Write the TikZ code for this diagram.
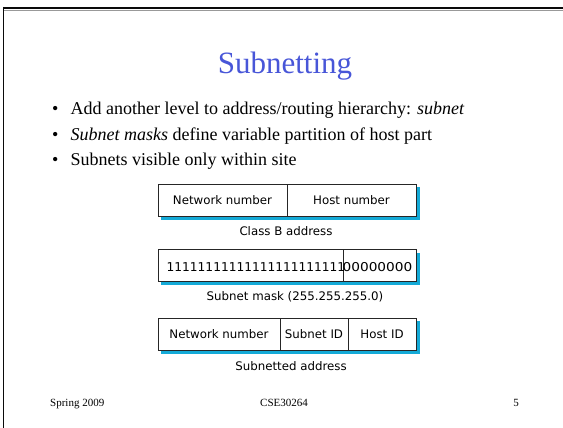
\documentclass[tikz,border=0pt]{standalone}
\usepackage{fontspec}
\setmainfont{Liberation Serif}[ItalicFont={Liberation Serif Italic},BoldFont={Liberation Serif Bold}]
\newfontfamily\diagfont{DejaVu Sans}
\usetikzlibrary{backgrounds}
\definecolor{titleblue}{RGB}{72,86,216}
\definecolor{shadowcyan}{RGB}{20,170,215}
\definecolor{frameline}{RGB}{10,10,10}
\tikzset{
  cell/.style={draw=black!85, line width=0.9pt, fill=white, inner sep=0pt,
    minimum height=32pt, font=\diagfont\fontsize{11.8}{14}\selectfont,
    text height=8.5pt, text depth=0pt},
  digits/.style={inner sep=0pt, font=\diagfont\fontsize{12.2}{14}\selectfont},
  caption/.style={inner sep=0pt, anchor=base, font=\diagfont\fontsize{11.8}{14}\selectfont},
  bullettext/.style={inner sep=0pt, anchor=base west, font=\rmfamily\fontsize{18}{21}\selectfont},
  footer/.style={inner sep=0pt, font=\rmfamily\fontsize{11}{13}\selectfont},
  shadowbar/.style={fill=shadowcyan}
}
\begin{document}
\begin{tikzpicture}[x=1pt,y=-1pt]
\useasboundingbox (0,0) rectangle (563,428);

% slide frame: top and left edges
\draw[black!40, line width=0.8pt] (4,10) -- (563,10);
\draw[frameline, line width=2pt] (3.5,8) -- (563,8);
\draw[frameline, line width=1.6pt] (3.5,7) -- (3.5,428);

% title
\node[inner sep=0pt, anchor=base, text=titleblue, font=\rmfamily\fontsize{31}{36}\selectfont]
  (title) at (285,74) {Subnetting};

% bullet list
\node[bullettext] (dot1) at (52,115) {•};
\node[bullettext] (dot2) at (52,140) {•};
\node[bullettext] (dot3) at (52,165) {•};
\node[bullettext] (item1) at (70.5,115) {Add another level to address/routing hierarchy: {\itshape subnet}};
\node[bullettext] (item2) at (70.5,140) {{\itshape Subnet masks} define variable partition of host part};
\node[bullettext] (item3) at (70.5,165) {Subnets visible only within site};

% class B address
\node[cell, minimum width=129pt] (cbnet)  at (222.5,200) {Network number};
\node[cell, minimum width=129pt] (cbhost) at (351.5,200) {Host number};
\node[caption] (cblabel) at (286,235) {Class B address};

% subnet mask
\node[cell, minimum width=185pt] (mkones)  at (250.5,265.5) {};
\node[cell, minimum width=73pt]  (mkzeros) at (379.5,265.5) {};
\node[digits, anchor=base west] (ones) at (166.5,271) {11111111111111111111111};
\node[digits, anchor=base west] (zeros) at (342.5,271) {\scalebox{1.12}[1]{00000000}};
\node[caption] (mklabel) at (295,300) {Subnet mask (255.255.255.0)};

% subnetted address
\node[cell, minimum width=122pt] (snnet)  at (219,334) {Network number};
\node[cell, minimum width=68pt]  (snsub)  at (314,334) {Subnet ID};
\node[cell, minimum width=68pt]  (snhost) at (382,334) {Host ID};
\node[caption] (snlabel) at (291,370) {Subnetted address};

% drop shadows behind the address boxes
\begin{scope}[on background layer]
  \fill[shadowbar] ([shift={(3.5,3.5)}]cbnet.north west) rectangle ([shift={(3.5,3.5)}]cbhost.south east);
  \fill[shadowbar] ([shift={(3.5,3.5)}]mkones.north west) rectangle ([shift={(3.5,3.5)}]mkzeros.south east);
  \fill[shadowbar] ([shift={(3.5,3.5)}]snnet.north west) rectangle ([shift={(3.5,3.5)}]snhost.south east);
\end{scope}

% footer
\node[footer, anchor=base west] (season) at (50,406) {Spring 2009};
\node[footer, anchor=base] (course) at (284,406) {CSE30264};
\node[footer, anchor=base] (page) at (516,406) {5};
\end{tikzpicture}
\end{document}
